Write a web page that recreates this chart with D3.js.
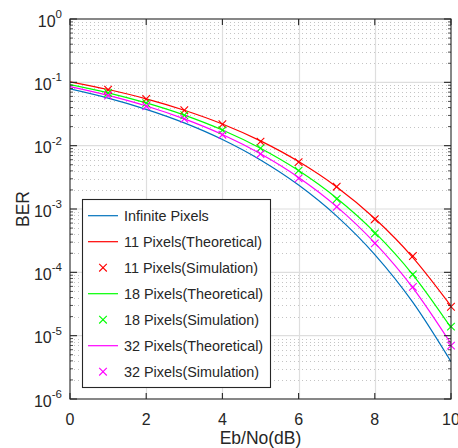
<!DOCTYPE html>
<html>
<head>
<meta charset="utf-8">
<script src="https://cdn.jsdelivr.net/npm/d3@7"></script>
<style>
  html, body { margin: 0; padding: 0; background: #fff; }
  svg { display: block; font-family: "Liberation Sans", Arial, sans-serif; }
</style>
</head>
<body>
<svg id="chart" width="458" height="448"></svg>
<script>
// Eb/No sample points (dB)
const ebno = [0, 1, 2, 3, 4, 5, 6, 7, 8, 9, 10];
const simEbno = [1, 2, 3, 4, 5, 6, 7, 8, 9, 10];

// Theoretical BER curves
const berInfinite = [7.86e-2, 5.63e-2, 3.75e-2, 2.29e-2, 1.25e-2, 5.95e-3, 2.39e-3, 7.73e-4, 1.91e-4, 3.36e-5, 3.9e-6];
const ber11Theory = [1.02e-1, 7.70e-2, 5.49e-2, 3.63e-2, 2.20e-2, 1.19e-2, 5.61e-3, 2.23e-3, 7.07e-4, 1.71e-4, 2.94e-5];
const ber18Theory = [9.21e-2, 6.82e-2, 4.73e-2, 3.04e-2, 1.77e-2, 9.11e-3, 4.04e-3, 1.48e-3, 4.27e-4, 9.15e-5, 1.34e-5];
const ber32Theory = [8.54e-2, 6.21e-2, 4.23e-2, 2.65e-2, 1.50e-2, 7.44e-3, 3.15e-3, 1.09e-3, 2.91e-4, 5.68e-5, 7.44e-6];

// Simulated BER points
const ber11Sim = [7.65e-2, 5.45e-2, 3.62e-2, 2.18e-2, 1.16e-2, 5.50e-3, 2.25e-3, 6.90e-4, 1.81e-4, 2.86e-5];
const ber18Sim = [6.80e-2, 4.70e-2, 3.02e-2, 1.76e-2, 9.10e-3, 4.03e-3, 1.44e-3, 4.10e-4, 9.30e-5, 1.39e-5];
const ber32Sim = [6.20e-2, 4.20e-2, 2.65e-2, 1.49e-2, 7.40e-3, 3.05e-3, 1.08e-3, 2.87e-4, 5.90e-5, 6.95e-6];

// Axis ticks
const xTicks = [0, 2, 4, 6, 8, 10];
const yExponents = [0, -1, -2, -3, -4, -5, -6];

const series = [
  { name: "Infinite Pixels",           color: "#0072BD", type: "line", x: ebno,    y: berInfinite },
  { name: "11 Pixels(Theoretical)",    color: "#FF0000", type: "line", x: ebno,    y: ber11Theory },
  { name: "11 Pixels(Simulation)",     color: "#FF0000", type: "mark", x: simEbno, y: ber11Sim },
  { name: "18 Pixels(Theoretical)",    color: "#00FF00", type: "line", x: ebno,    y: ber18Theory },
  { name: "18 Pixels(Simulation)",     color: "#00FF00", type: "mark", x: simEbno, y: ber18Sim },
  { name: "32 Pixels(Theoretical)",    color: "#FF00FF", type: "line", x: ebno,    y: ber32Theory },
  { name: "32 Pixels(Simulation)",     color: "#FF00FF", type: "mark", x: simEbno, y: ber32Sim }
];

const svg = d3.select("#chart");
const pL = 70, pR = 451, pT = 19, pB = 399;

const x = d3.scaleLinear().domain([0, 10]).range([pL, pR]);
const y = d3.scaleLog().domain([1e-6, 1]).range([pB, pT]);

const axisColor = "#262626";

// grid: minor (dotted) horizontal lines inside every decade
const minorVals = [];
for (let e = -6; e < 0; e++) {
  for (let m = 2; m <= 9; m++) minorVals.push(m * Math.pow(10, e));
}
const grid = svg.append("g");
grid.selectAll("line.minor").data(minorVals).join("line")
  .attr("x1", pL).attr("x2", pR)
  .attr("y1", d => Math.round(y(d)) + 0.5).attr("y2", d => Math.round(y(d)) + 0.5)
  .attr("stroke", "#c4c4c4").attr("stroke-width", 1).attr("stroke-dasharray", "1 3");

// grid: major lines
grid.selectAll("line.majx").data(xTicks.slice(1, -1)).join("line")
  .attr("x1", d => Math.round(x(d)) + 0.5).attr("x2", d => Math.round(x(d)) + 0.5)
  .attr("y1", pT).attr("y2", pB)
  .attr("stroke", "#dedede").attr("stroke-width", 1.2);
grid.selectAll("line.majy").data(yExponents.slice(1, -1)).join("line")
  .attr("x1", pL).attr("x2", pR)
  .attr("y1", d => y(Math.pow(10, d))).attr("y2", d => y(Math.pow(10, d)))
  .attr("stroke", "#dedede").attr("stroke-width", 1.2);

// curves
svg.append("clipPath").attr("id", "plotclip")
  .append("rect").attr("x", pL).attr("y", pT).attr("width", pR - pL).attr("height", pB - pT);

const line = d3.line()
  .x(d => x(d[0])).y(d => y(d[1]))
  .curve(d3.curveMonotoneX);

const plot = svg.append("g");
series.filter(s => s.type === "line").forEach(s => {
  plot.append("path")
    .datum(s.x.map((v, i) => [v, s.y[i]]))
    .attr("clip-path", "url(#plotclip)")
    .attr("fill", "none")
    .attr("stroke", s.color)
    .attr("stroke-width", 1.2)
    .attr("d", line);
});

// cross markers
function cross(sel, cx, cy, r, color) {
  sel.append("path")
    .attr("d", `M${cx - r},${cy - r}L${cx + r},${cy + r}M${cx - r},${cy + r}L${cx + r},${cy - r}`)
    .attr("stroke", color).attr("stroke-width", 1.1).attr("fill", "none");
}
series.filter(s => s.type === "mark").forEach(s => {
  s.x.forEach((v, i) => cross(plot, x(v), y(s.y[i]), 3.8, s.color));
});

// axes box
const axes = svg.append("g");
axes.append("rect")
  .attr("x", pL).attr("y", pT).attr("width", pR - pL).attr("height", pB - pT)
  .attr("fill", "none").attr("stroke", axisColor).attr("stroke-width", 1.1);

// x ticks (bottom and top, inward)
xTicks.forEach(t => {
  const px = x(t);
  axes.append("line").attr("x1", px).attr("x2", px).attr("y1", pB).attr("y2", pB - 6)
    .attr("stroke", axisColor).attr("stroke-width", 1.1);
  axes.append("line").attr("x1", px).attr("x2", px).attr("y1", pT).attr("y2", pT + 6)
    .attr("stroke", axisColor).attr("stroke-width", 1.1);
  axes.append("text").attr("x", px).attr("y", 425)
    .attr("text-anchor", "middle").attr("font-size", 16).attr("fill", axisColor)
    .text(d3.format("d")(t));
});

// y ticks (left and right, inward), major and minor
yExponents.forEach(e => {
  const py = y(Math.pow(10, e));
  axes.append("line").attr("x1", pL).attr("x2", pL + 7).attr("y1", py).attr("y2", py)
    .attr("stroke", axisColor).attr("stroke-width", 1.1);
  axes.append("line").attr("x1", pR).attr("x2", pR - 7).attr("y1", py).attr("y2", py)
    .attr("stroke", axisColor).attr("stroke-width", 1.1);
  const lbl = axes.append("text").attr("x", 62).attr("y", py + 7.5)
    .attr("text-anchor", "end").attr("font-size", 16).attr("fill", axisColor);
  lbl.append("tspan").text("10");
  lbl.append("tspan").attr("dy", -8.5).attr("font-size", 11.5).text(String(e));
});
minorVals.forEach(v => {
  const py = y(v);
  axes.append("line").attr("x1", pL).attr("x2", pL + 3).attr("y1", py).attr("y2", py)
    .attr("stroke", axisColor).attr("stroke-width", 0.8);
  axes.append("line").attr("x1", pR).attr("x2", pR - 3).attr("y1", py).attr("y2", py)
    .attr("stroke", axisColor).attr("stroke-width", 0.8);
});

// axis titles
svg.append("text").attr("x", (pL + pR) / 2).attr("y", 444)
  .attr("text-anchor", "middle").attr("font-size", 17.5).attr("fill", axisColor)
  .text("Eb/No(dB)");
svg.append("text")
  .attr("transform", `translate(29,209) rotate(-90)`)
  .attr("text-anchor", "middle").attr("font-size", 17.5).attr("fill", axisColor)
  .text("BER");

// legend
const lg = svg.append("g");
const lgX = 82, lgY = 199, lgW = 188, lgH = 188, rowY0 = 215.7, rowStep = 26;
lg.append("rect").attr("x", lgX + 0.5).attr("y", lgY + 0.5).attr("width", lgW).attr("height", lgH)
  .attr("fill", "#fff").attr("stroke", axisColor).attr("stroke-width", 1.1);
series.forEach((s, i) => {
  const ry = rowY0 + i * rowStep;
  if (s.type === "line") {
    lg.append("line").attr("x1", 88).attr("x2", 118).attr("y1", ry).attr("y2", ry)
      .attr("stroke", s.color).attr("stroke-width", 1.2);
  } else {
    cross(lg, 103, ry, 3.8, s.color);
  }
  lg.append("text").attr("x", 124).attr("y", ry + 5)
    .attr("font-size", 14.4).attr("fill", axisColor).text(s.name);
});
</script>
</body>
</html>
